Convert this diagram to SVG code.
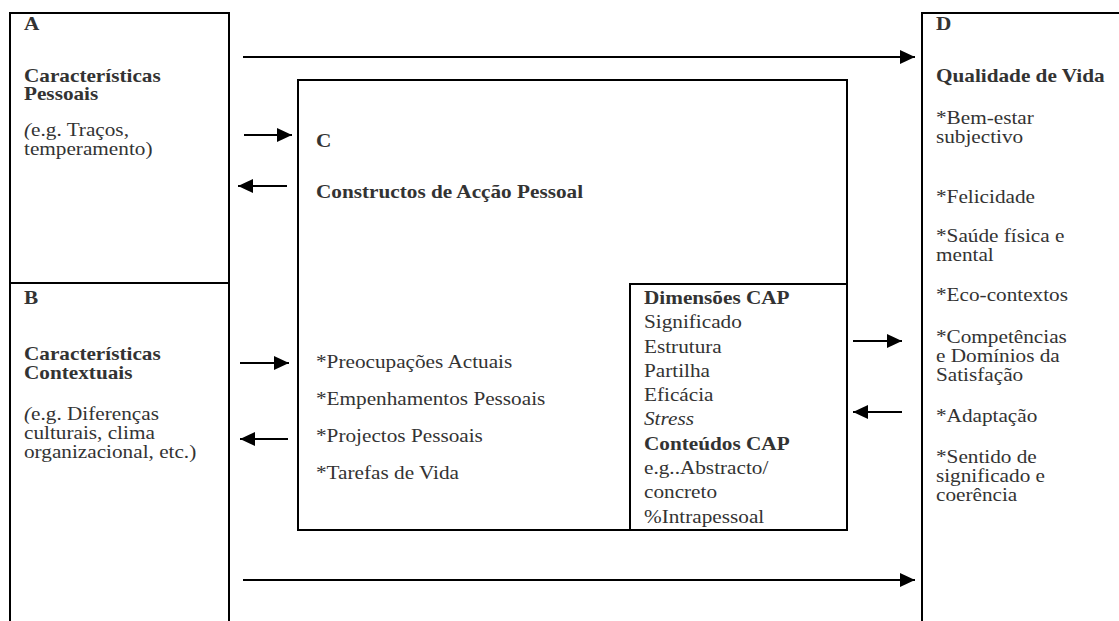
<svg xmlns="http://www.w3.org/2000/svg" width="1119" height="621" viewBox="0 0 1119 621">
<style>
  .box { fill: none; stroke: #000; stroke-width: 2; }
  .t { font-family: "Liberation Serif", "Times New Roman", serif; font-size: 18px; fill: #333; }
  .b { font-weight: bold; }
  .i { font-style: italic; }
  .arr { stroke: #000; stroke-width: 2; fill: none; marker-end: url(#ah); }
</style>
<defs>
  <marker id="ah" markerUnits="userSpaceOnUse" markerWidth="16" markerHeight="14" refX="15" refY="7" orient="auto">
    <path d="M0,0 L15,7 L0,14 Z" fill="#000"/>
  </marker>
</defs>
<rect width="1119" height="621" fill="#fff"/>

<g id="nodeA">
  <rect class="box" x="10" y="13" width="219" height="270"/>
  <g transform="scale(1.18,1)">
    <text class="t b" x="20.34" y="30">A</text>
    <text class="t b" x="20.34" y="82">Características</text>
    <text class="t b" x="20.34" y="100">Pessoais</text>
    <text class="t" x="20.34" y="136"><tspan class="i">(</tspan>e.g. Traços,</text>
    <text class="t" x="20.34" y="155">temperamento)</text>
  </g>
</g>

<g id="nodeB">
  <rect class="box" x="10" y="283" width="219" height="360"/>
  <g transform="scale(1.18,1)">
    <text class="t b" x="20.34" y="304">B</text>
    <text class="t b" x="20.34" y="360">Características</text>
    <text class="t b" x="20.34" y="379">Contextuais</text>
    <text class="t" x="20.34" y="420"><tspan class="i">(</tspan>e.g. Diferenças</text>
    <text class="t" x="20.34" y="439">culturais, clima</text>
    <text class="t" x="20.34" y="458">organizacional, etc.)</text>
  </g>
</g>

<g id="nodeC">
  <rect class="box" x="298" y="80" width="549" height="450"/>
  <g transform="scale(1.18,1)">
    <text class="t b" x="267.8" y="147">C</text>
    <text class="t b" x="267.8" y="198">Constructos de Acção Pessoal</text>
    <text class="t" x="267.8" y="368">*Preocupações Actuais</text>
    <text class="t" x="267.8" y="405">*Empenhamentos Pessoais</text>
    <text class="t" x="267.8" y="442">*Projectos Pessoais</text>
    <text class="t" x="267.8" y="479">*Tarefas de Vida</text>
  </g>
</g>

<g id="nodeCAP">
  <rect class="box" x="630" y="284" width="217" height="246"/>
  <g transform="scale(1.18,1)">
    <text class="t b" x="545.76" y="304">Dimensões CAP</text>
    <text class="t" x="545.76" y="328.3">Significado</text>
    <text class="t" x="545.76" y="352.6">Estrutura</text>
    <text class="t" x="545.76" y="376.9">Partilha</text>
    <text class="t" x="545.76" y="401.2">Eficácia</text>
    <text class="t i" x="545.76" y="425.5">Stress</text>
    <text class="t b" x="545.76" y="449.8">Conteúdos CAP</text>
    <text class="t" x="545.76" y="474.1">e.g..Abstracto/</text>
    <text class="t" x="545.76" y="498.4">concreto</text>
    <text class="t" x="545.76" y="522.7">%Intrapessoal</text>
  </g>
</g>

<g id="nodeD">
  <rect class="box" x="922" y="13" width="220" height="630"/>
  <g transform="scale(1.18,1)">
    <text class="t b" x="793.2" y="30">D</text>
    <text class="t b" x="793.2" y="82">Qualidade de Vida</text>
    <text class="t" x="793.2" y="124">*Bem-estar</text>
    <text class="t" x="793.2" y="143">subjectivo</text>
    <text class="t" x="793.2" y="203">*Felicidade</text>
    <text class="t" x="793.2" y="242">*Saúde física e</text>
    <text class="t" x="793.2" y="261">mental</text>
    <text class="t" x="793.2" y="301">*Eco-contextos</text>
    <text class="t" x="793.2" y="343">*Competências</text>
    <text class="t" x="793.2" y="362">e Domínios da</text>
    <text class="t" x="793.2" y="381">Satisfação</text>
    <text class="t" x="793.2" y="422">*Adaptação</text>
    <text class="t" x="793.2" y="463">*Sentido de</text>
    <text class="t" x="793.2" y="482">significado e</text>
    <text class="t" x="793.2" y="501">coerência</text>
  </g>
</g>

<g id="connectors">
  <line class="arr" x1="243" y1="57" x2="915" y2="57"/>
  <line class="arr" x1="243" y1="580" x2="915" y2="580"/>
  <line class="arr" x1="244" y1="135" x2="292" y2="135"/>
  <line class="arr" x1="287" y1="186" x2="238" y2="186"/>
  <line class="arr" x1="240" y1="363" x2="289" y2="363"/>
  <line class="arr" x1="288" y1="439" x2="240" y2="439"/>
  <line class="arr" x1="853" y1="341" x2="902" y2="341"/>
  <line class="arr" x1="902" y1="412" x2="853" y2="412"/>
</g>
</svg>
